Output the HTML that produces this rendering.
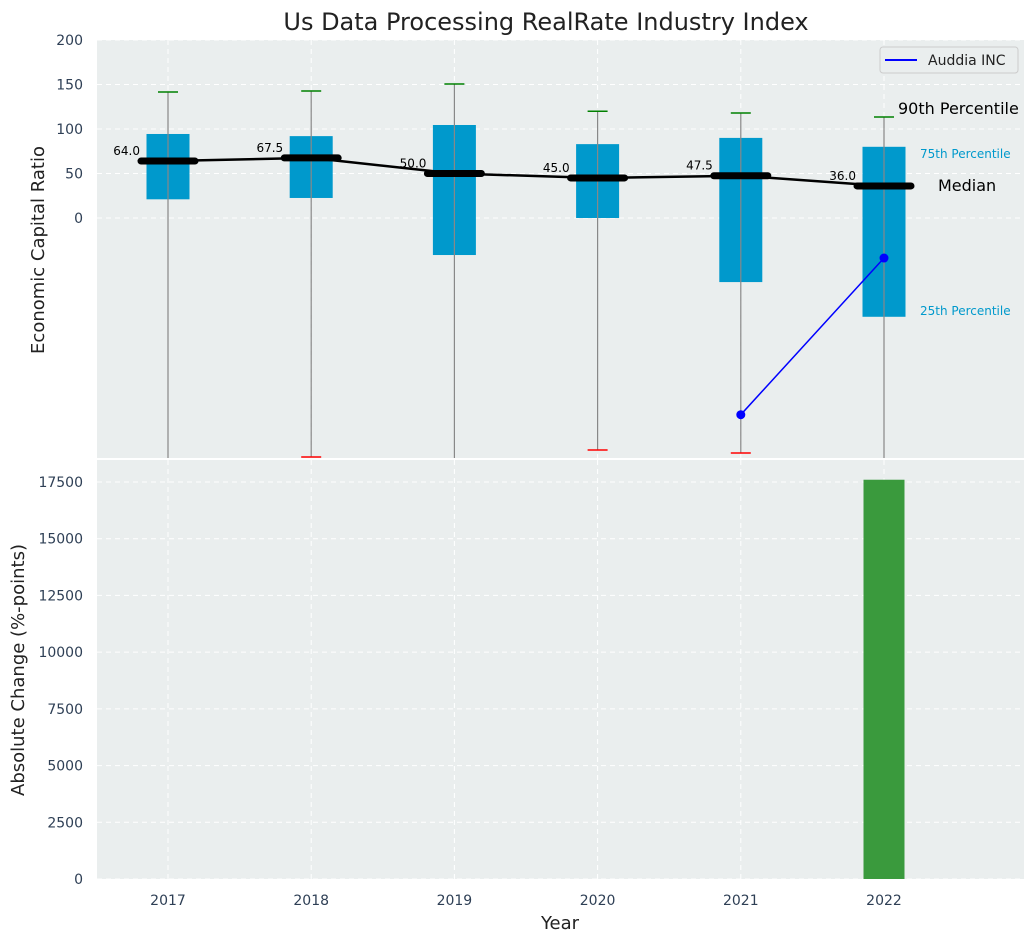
<!DOCTYPE html>
<html><head><meta charset="utf-8"><style>
body{margin:0;background:#fff;font-family:"Liberation Sans","DejaVu Sans",sans-serif}
svg text{font-family:"DejaVu Sans","Liberation Sans",sans-serif}
</style></head><body>
<svg id="c" width="1035" height="942" xmlns="http://www.w3.org/2000/svg"></svg>
<script>
const years=[2017,2018,2019,2020,2021,2022];
const q1=[21,22.5,-41.6,0,-72,-111];
const q3=[94.4,92,104.5,83,90,80];
const p90=[141.6,142.7,150.6,120,118,113.5];
const p10=[-300,-268.5,-300,-260.7,-264,-300];
const medians=[64,67.5,50,45,47.5,36];
const auddiaYears=[2021,2022];
const auddiaVals=[-221,-45];
const changeYears=[2022];
const changeVals=[17600];
const topTicks=[0,50,100,150,200];
const botTicks=[0,2500,5000,7500,10000,12500,15000,17500];

const NS="http://www.w3.org/2000/svg";
const svg=document.getElementById('c');
function el(t,a,txt){const e=document.createElementNS(NS,t);for(const k in a)e.setAttribute(k,a[k]);if(txt!==undefined)e.textContent=txt;svg.appendChild(e);return e;}
const L=97,R=1024,T1=40,B1=458,T2=460,B2=879;
const X=y=>168+(y-2017)*143.2;
const Y1=v=>218-v*0.89;
const Y2=v=>879-v*397/17500;

let e;
e=el('rect',{x:L,y:T1,width:R-L,height:B1-T1,fill:'#eaeeee'});

e=el('rect',{x:L,y:T2,width:R-L,height:B2-T2,fill:'#eaeeee'});

// grids
years.forEach(y=>{
 el('line',{x1:X(y),x2:X(y),y1:T1,y2:B1,stroke:'#fff','stroke-dasharray':'5,4','stroke-width':1});
 el('line',{x1:X(y),x2:X(y),y1:T2,y2:B2,stroke:'#fff','stroke-dasharray':'5,4','stroke-width':1});
 e=el('text',{x:X(y),y:905,'text-anchor':'middle','font-size':14,fill:'#2e3f55'},y);
 
});
topTicks.forEach(t=>{
 el('line',{x1:L,x2:R,y1:Y1(t),y2:Y1(t),stroke:'#fff','stroke-dasharray':'5,4'});
 e=el('text',{x:83,y:Y1(t)+5,'text-anchor':'end','font-size':14,fill:'#2e3f55'},t);
 
});
botTicks.forEach(t=>{
 el('line',{x1:L,x2:R,y1:Y2(t),y2:Y2(t),stroke:'#fff','stroke-dasharray':'5,4'});
 e=el('text',{x:83,y:Y2(t)+5,'text-anchor':'end','font-size':14,fill:'#2e3f55'},t);
 
});
// clip
const defs=el('defs',{});
const cp=document.createElementNS(NS,'clipPath');cp.setAttribute('id','cl');
const cr=document.createElementNS(NS,'rect');cr.setAttribute('x',L);cr.setAttribute('y',T1);cr.setAttribute('width',R-L);cr.setAttribute('height',B1-T1);
cp.appendChild(cr);defs.appendChild(cp);
const g=document.createElementNS(NS,'g');g.setAttribute('clip-path','url(#cl)');svg.appendChild(g);
function gel(t,a,txt){const x=el(t,a,txt);g.appendChild(x);return x;}
years.forEach((y,i)=>{
 const x=X(y);
 e=gel('rect',{x:x-21.5,y:Y1(q3[i]),width:43,height:Y1(q1[i])-Y1(q3[i]),fill:'#0099cc'});
 
 gel('line',{x1:x,x2:x,y1:Y1(p90[i]),y2:Y1(p10[i]),stroke:'#888','stroke-width':1.2});
 gel('line',{x1:x-10,x2:x+10,y1:Y1(p90[i]),y2:Y1(p90[i]),stroke:'green','stroke-width':1.5});
 gel('line',{x1:x-10,x2:x+10,y1:Y1(p10[i]),y2:Y1(p10[i]),stroke:'red','stroke-width':1.5});
});
let pts=years.map((y,i)=>X(y)+','+Y1(medians[i])).join(' ');
e=gel('polyline',{points:pts,fill:'none',stroke:'#000','stroke-width':2.5});

years.forEach((y,i)=>{
 const x=X(y);
 e=gel('line',{x1:x-27,x2:x+27,y1:Y1(medians[i]),y2:Y1(medians[i]),stroke:'#000','stroke-width':7,'stroke-linecap':'round'});
 
 e=gel('text',{x:x-28,y:Y1(medians[i])-6,'text-anchor':'end','font-size':12,fill:'#000'},medians[i].toFixed(1));
 
});
pts=auddiaYears.map((y,i)=>X(y)+','+Y1(auddiaVals[i])).join(' ');
e=gel('polyline',{points:pts,fill:'none',stroke:'blue','stroke-width':1.5});

auddiaYears.forEach((y,i)=>{e=gel('circle',{cx:X(y),cy:Y1(auddiaVals[i]),r:4.5,fill:'blue'});
 });
// annotations
const x22=X(2022);
e=el('text',{x:898,y:114,'font-size':16,fill:'#000'},'90th Percentile');
e=el('text',{x:920,y:158,'font-size':12,fill:'#0099cc'},'75th Percentile');
e=el('text',{x:938,y:191,'font-size':16,fill:'#000'},'Median');
e=el('text',{x:920,y:315,'font-size':12,fill:'#0099cc'},'25th Percentile');
// legend
e=el('rect',{x:880,y:47,width:138,height:26,rx:3,fill:'#eaeeee',stroke:'#ccc'});
el('line',{x1:885,x2:917,y1:60,y2:60,stroke:'blue','stroke-width':2});
e=el('text',{x:928,y:65,'font-size':14,fill:'#222'},'Auddia INC');
// bars
changeYears.forEach((y,i)=>{e=el('rect',{x:X(y)-20.5,y:Y2(changeVals[i]),width:41,height:Y2(0)-Y2(changeVals[i]),fill:'#3a9a3d'});
 });
// titles
e=el('text',{x:546,y:30,'text-anchor':'middle','font-size':24,fill:'#222'},'Us Data Processing RealRate Industry Index');
e=el('text',{x:44,y:250,'text-anchor':'middle','font-size':18,fill:'#222',transform:'rotate(-90 44 250)'},'Economic Capital Ratio');
e=el('text',{x:24,y:670,'text-anchor':'middle','font-size':18,fill:'#222',transform:'rotate(-90 24 670)'},'Absolute Change (%-points)');
e=el('text',{x:560,y:929,'text-anchor':'middle','font-size':18,fill:'#222'},'Year');
</script>
</body></html>
